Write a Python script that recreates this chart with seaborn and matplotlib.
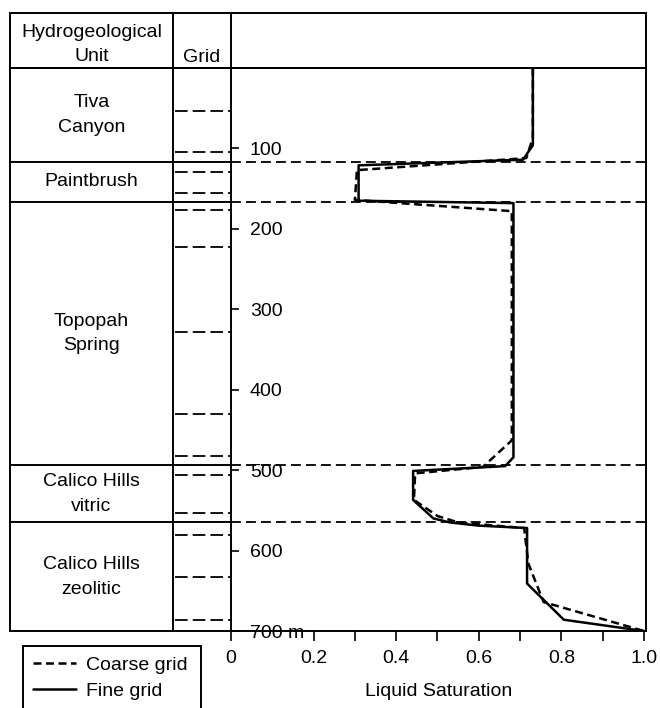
import numpy as np
import pandas as pd
import matplotlib.pyplot as plt
import matplotlib.patches as mpatches
import seaborn as sns

# Unidades hidrogeológicas (profundidad en m)
units = ['Tiva\nCanyon', 'Paintbrush', 'Topopah\nSpring', 'Calico Hills\nvitric', 'Calico Hills\nzeolitic']
unit_tops = [0, 117, 166, 494, 565]
unit_bottoms = [117, 166, 494, 565, 700]

# Límites de elementos de la malla gruesa
grid_lines = [53, 105, 129, 155, 177, 223, 328, 430, 483, 506, 553, 581, 633, 686]

# Perfil de saturación - malla fina
fine_sat = [0.731, 0.731, 0.707, 0.309, 0.309, 0.684, 0.684, 0.664, 0.441, 0.441,
            0.49, 0.53, 0.60, 0.717, 0.717, 0.806, 1.0]
fine_depth = [0, 96, 114, 121, 165, 168, 484, 495, 501, 537,
              560, 565, 569, 572, 641, 686, 700]

# Perfil de saturación - malla gruesa
coarse_sat = [0.731, 0.731, 0.715, 0.305, 0.300, 0.68, 0.68, 0.61, 0.446, 0.443,
              0.50, 0.55, 0.71, 0.72, 0.757, 1.0]
coarse_depth = [0, 87, 112, 127, 164, 178, 463, 496, 504, 537,
                557, 565, 572, 616, 664, 700]

depth_ticks = [100, 200, 300, 400, 500, 600, 700]
depth_labels = ['100', '200', '300', '400', '500', '600', '700 m']
sat_ticks = [0, 0.2, 0.4, 0.6, 0.8, 1.0]
sat_labels = ['0', '0.2', '0.4', '0.6', '0.8', '1.0']
sat_minor = [0.3, 0.5, 0.7, 0.9]

df = pd.concat([
    pd.DataFrame({'sat': coarse_sat, 'depth': coarse_depth, 'grid': 'Coarse grid'}),
    pd.DataFrame({'sat': fine_sat, 'depth': fine_depth, 'grid': 'Fine grid'}),
], ignore_index=True)

sns.set_style('white')
plt.rcParams['font.family'] = ['Liberation Sans', 'DejaVu Sans']
plt.rcParams['font.size'] = 14
plt.rcParams['axes.linewidth'] = 1.4
for k in ['text.color', 'axes.labelcolor', 'xtick.color', 'ytick.color', 'axes.edgecolor']:
    plt.rcParams[k] = 'black'

W, H = 660, 708
fig = plt.figure(figsize=(W / 100, H / 100), dpi=100)

# Posiciones en píxeles del marco
x_left, x_col, x_axis, x_right = 10, 173, 231, 646
y_top, y_head, y_bot = 13, 68, 631

def fr(x0, y0, x1, y1):
    return [x0 / W, 1 - y1 / H, (x1 - x0) / W, (y1 - y0) / H]

axt = fig.add_axes(fr(x_left, y_head, x_axis, y_bot))
axh = fig.add_axes(fr(x_left, y_top, x_right, y_head))
ax = fig.add_axes(fr(x_axis, y_head, x_right, y_bot))
axt.sharey(ax)
for a in (axt, axh, ax):
    a.patch.set_alpha(0)

# Curvas
sns.lineplot(data=df, x='sat', y='depth', hue='grid', style='grid', sort=False,
             estimator=None, palette={'Coarse grid': 'black', 'Fine grid': 'black'},
             dashes={'Coarse grid': (3.2, 1.8), 'Fine grid': ''}, linewidth=1.8, ax=ax)
leg = ax.get_legend()
handles = leg.legend_handles
labels = [t.get_text() for t in leg.get_texts()]
leg.remove()

ax.hlines(unit_bottoms[:-1], 0, 1.005, colors='black', linewidth=1.3,
          linestyles=[(0, (5.5, 2.8))])
ax.set_xlim(0, 1.005)
ax.set_ylim(700, 0)
ax.set_xticks(sat_ticks)
ax.set_xticklabels(sat_labels)
ax.set_xticks(sat_minor, minor=True)
ax.set_yticks(depth_ticks)
ax.set_yticklabels(depth_labels)
ax.tick_params(axis='x', which='both', direction='out', length=7, width=1.2,
               bottom=True, pad=7)
ax.tick_params(axis='y', direction='in', length=6, width=1.2, left=True, pad=-13.5)
for lab in ax.get_yticklabels():
    lab.set_horizontalalignment('left')
    lab.set_bbox(dict(facecolor='white', edgecolor='none', pad=1))
ax.set_xlabel('Liquid Saturation', labelpad=11)
ax.set_ylabel('')

# Tabla de unidades y malla
axt.set_xlim(0, 1)
col = (x_col - x_left) / (x_axis - x_left)
axt.axvline(col, color='black', linewidth=1.4)
axt.hlines(unit_bottoms[:-1], 0, 1, colors='black', linewidth=1.4)
axt.hlines(grid_lines, col + 0.01, 0.995, colors='black', linewidth=1.3,
           linestyles=[(0, (7, 2.8))])
for name, top, bot in zip(units, unit_tops, unit_bottoms):
    axt.text(col / 2, (top + bot) / 2, name, ha='center', va='center', linespacing=1.6)
axt.tick_params(left=False, bottom=False, labelleft=False, labelbottom=False)
axt.spines['right'].set_visible(False)

# Encabezado
axh.set_xlim(0, 1)
axh.set_ylim(0, 1)
hcol1 = (x_col - x_left) / (x_right - x_left)
hcol2 = (x_axis - x_left) / (x_right - x_left)
axh.axvline(hcol1, color='black', linewidth=1.4)
axh.axvline(hcol2, color='black', linewidth=1.4)
axh.text(hcol1 / 2, 0.42, 'Hydrogeological\nUnit', ha='center', va='center', linespacing=1.55)
axh.text((hcol1 + hcol2) / 2, 0.2, 'Grid', ha='center', va='center')
axh.set_xticks([])
axh.set_yticks([])

# Leyenda
fig.legend(handles, labels, loc='upper left', bbox_to_anchor=(33 / W, 1 - 656 / H),
           frameon=False, borderpad=0, borderaxespad=0, handlelength=2.2,
           handletextpad=0.55, labelspacing=0.45)
fig.patches.append(mpatches.Rectangle((22.7 / W, -0.02), (201 - 22.7) / W,
                                      (1 - 645.7 / H) + 0.02, transform=fig.transFigure,
                                      fill=False, edgecolor='black', linewidth=1.4))

fig.savefig('out.png', dpi=100)
